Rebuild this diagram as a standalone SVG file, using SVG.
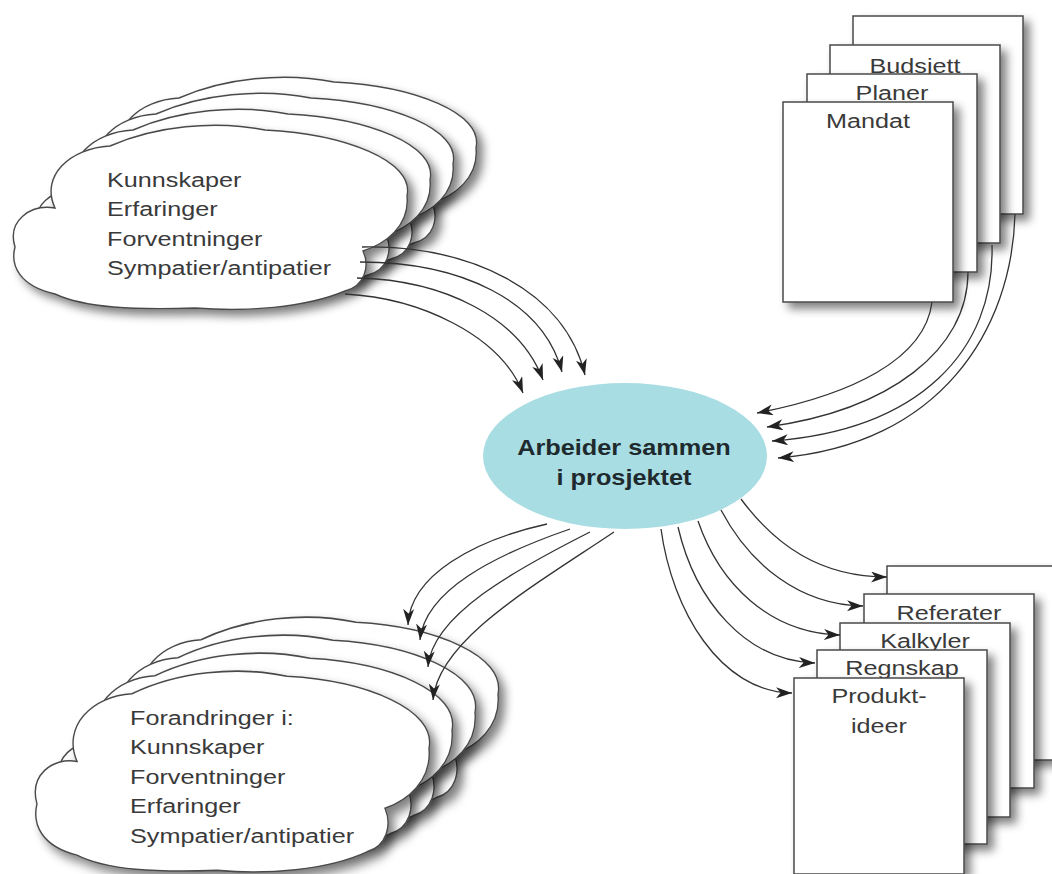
<svg xmlns="http://www.w3.org/2000/svg" width="1052" height="874" viewBox="0 0 1052 874">
<defs>
  <filter id="sh" x="-10%" y="-10%" width="135%" height="140%">
    <feGaussianBlur in="SourceAlpha" stdDeviation="5"/>
    <feOffset dx="6" dy="6"/>
    <feComponentTransfer><feFuncA type="linear" slope="0.5"/></feComponentTransfer>
    <feMerge><feMergeNode/><feMergeNode in="SourceGraphic"/></feMerge>
  </filter>
  <path id="cloud" d="M0,121 C-8,95 15,78 40,82 C25,50 55,22 95,20 C140,0 200,-6 250,4 C330,8 400,35 392,70 C395,100 370,118 348,125 C355,140 350,160 330,165 C290,182 230,186 180,182 C120,184 70,182 40,168 C5,160 -5,140 0,121 Z"/>
  <marker id="ah" markerWidth="18" markerHeight="12" refX="16" refY="5.5" orient="auto" markerUnits="userSpaceOnUse">
    <path d="M0,0 L16,5.5 L0,11 L4.5,5.5 Z" fill="#222"/>
  </marker>
</defs>
<style>
  .cl { fill:#fff; stroke:#4a4a4a; stroke-width:1.4; filter:url(#sh); }
  .doc { fill:#fff; stroke:#4a4a4a; stroke-width:1.5; filter:url(#sh); }
  .t { font-family:"Liberation Sans", Arial, sans-serif; font-size:21px; fill:#3a3a3a; }
  .m { text-anchor:middle; }
  .b { font-family:"Liberation Sans", Arial, sans-serif; font-size:22px; font-weight:bold; fill:#1e2a2e; text-anchor:middle; }
  .c { stroke:#333; stroke-width:1.3; fill:none; marker-end:url(#ah); }
</style>
<rect width="1052" height="874" fill="#fff"/>

<g id="clouds-in">
  <use href="#cloud" class="cl" transform="translate(84,78)"/>
  <use href="#cloud" class="cl" transform="translate(61,94)"/>
  <use href="#cloud" class="cl" transform="translate(38,110)"/>
  <use href="#cloud" class="cl" transform="translate(15,126)"/>
  <text class="t" transform="translate(107,187) scale(1.2,1)">
    <tspan x="0" y="0">Kunnskaper</tspan>
    <tspan x="0" y="29.5">Erfaringer</tspan>
    <tspan x="0" y="59">Forventninger</tspan>
    <tspan x="0" y="88.5">Sympatier/antipatier</tspan>
  </text>
</g>

<g id="docs-in">
  <rect class="doc" x="853" y="16" width="170" height="198"/>
  <rect class="doc" x="830" y="45" width="170" height="198"/>
  <text class="t m" transform="translate(915,73) scale(1.2,1)">Budsjett</text>
  <rect class="doc" x="807" y="74" width="170" height="198"/>
  <text class="t m" transform="translate(892,100) scale(1.2,1)">Planer</text>
  <rect class="doc" x="783" y="102" width="170" height="200"/>
  <text class="t m" transform="translate(868,128) scale(1.2,1)">Mandat</text>
</g>

<g id="center">
  <ellipse cx="625" cy="456" rx="142" ry="73" fill="#a8dde3"/>
  <text class="b" transform="translate(624,455) scale(1.15,1)">Arbeider sammen</text>
  <text class="b" transform="translate(624,485) scale(1.15,1)">i prosjektet</text>
</g>

<g id="clouds-out">
  <use href="#cloud" class="cl" transform="translate(106,618) scale(1,1.09)"/>
  <use href="#cloud" class="cl" transform="translate(83,636) scale(1,1.09)"/>
  <use href="#cloud" class="cl" transform="translate(60,654) scale(1,1.09)"/>
  <use href="#cloud" class="cl" transform="translate(37,672) scale(1,1.09)"/>
  <text class="t" transform="translate(130,725) scale(1.2,1)">
    <tspan x="0" y="0">Forandringer i:</tspan>
    <tspan x="0" y="29.5">Kunnskaper</tspan>
    <tspan x="0" y="59">Forventninger</tspan>
    <tspan x="0" y="88.5">Erfaringer</tspan>
    <tspan x="0" y="118">Sympatier/antipatier</tspan>
  </text>
</g>

<g id="docs-out">
  <rect class="doc" x="887" y="566" width="170" height="194"/>
  <rect class="doc" x="864" y="594" width="170" height="194"/>
  <text class="t m" transform="translate(949,620) scale(1.2,1)">Referater</text>
  <rect class="doc" x="840" y="623" width="170" height="194"/>
  <text class="t m" transform="translate(925,648) scale(1.2,1)">Kalkyler</text>
  <rect class="doc" x="817" y="650" width="170" height="194"/>
  <text class="t m" transform="translate(902,675) scale(1.2,1)">Regnskap</text>
  <rect class="doc" x="794" y="678" width="170" height="196"/>
  <text class="t m" transform="translate(879,703) scale(1.2,1)">Produkt-</text>
  <text class="t m" transform="translate(879,733) scale(1.2,1)">ideer</text>
</g>

<g id="connectors">
  <path class="c" d="M362,247 C470,245 565,290 585,375"/>
  <path class="c" d="M360,262 C460,262 543,300 562,372"/>
  <path class="c" d="M357,278 C445,280 520,318 543,380"/>
  <path class="c" d="M345,294 C420,298 500,335 523,393"/>

  <path class="c" d="M932,302 C925,360 850,395 757,413"/>
  <path class="c" d="M968,272 C968,350 890,410 767,427"/>
  <path class="c" d="M992,245 C995,350 920,430 772,441"/>
  <path class="c" d="M1015,214 C1012,330 940,445 778,458"/>

  <path class="c" d="M547,524 C475,540 410,575 408,625"/>
  <path class="c" d="M570,529 C495,555 425,590 420,640"/>
  <path class="c" d="M590,532 C515,570 432,615 428,667"/>
  <path class="c" d="M614,532 C535,585 438,640 433,700"/>

  <path class="c" d="M741,499 C775,545 820,577 887,577"/>
  <path class="c" d="M721,510 C750,565 800,605 863,606"/>
  <path class="c" d="M698,521 C720,585 770,633 840,635"/>
  <path class="c" d="M678,527 C695,600 745,661 815,663"/>
  <path class="c" d="M661,529 C672,610 720,692 792,693"/>
</g>
</svg>
